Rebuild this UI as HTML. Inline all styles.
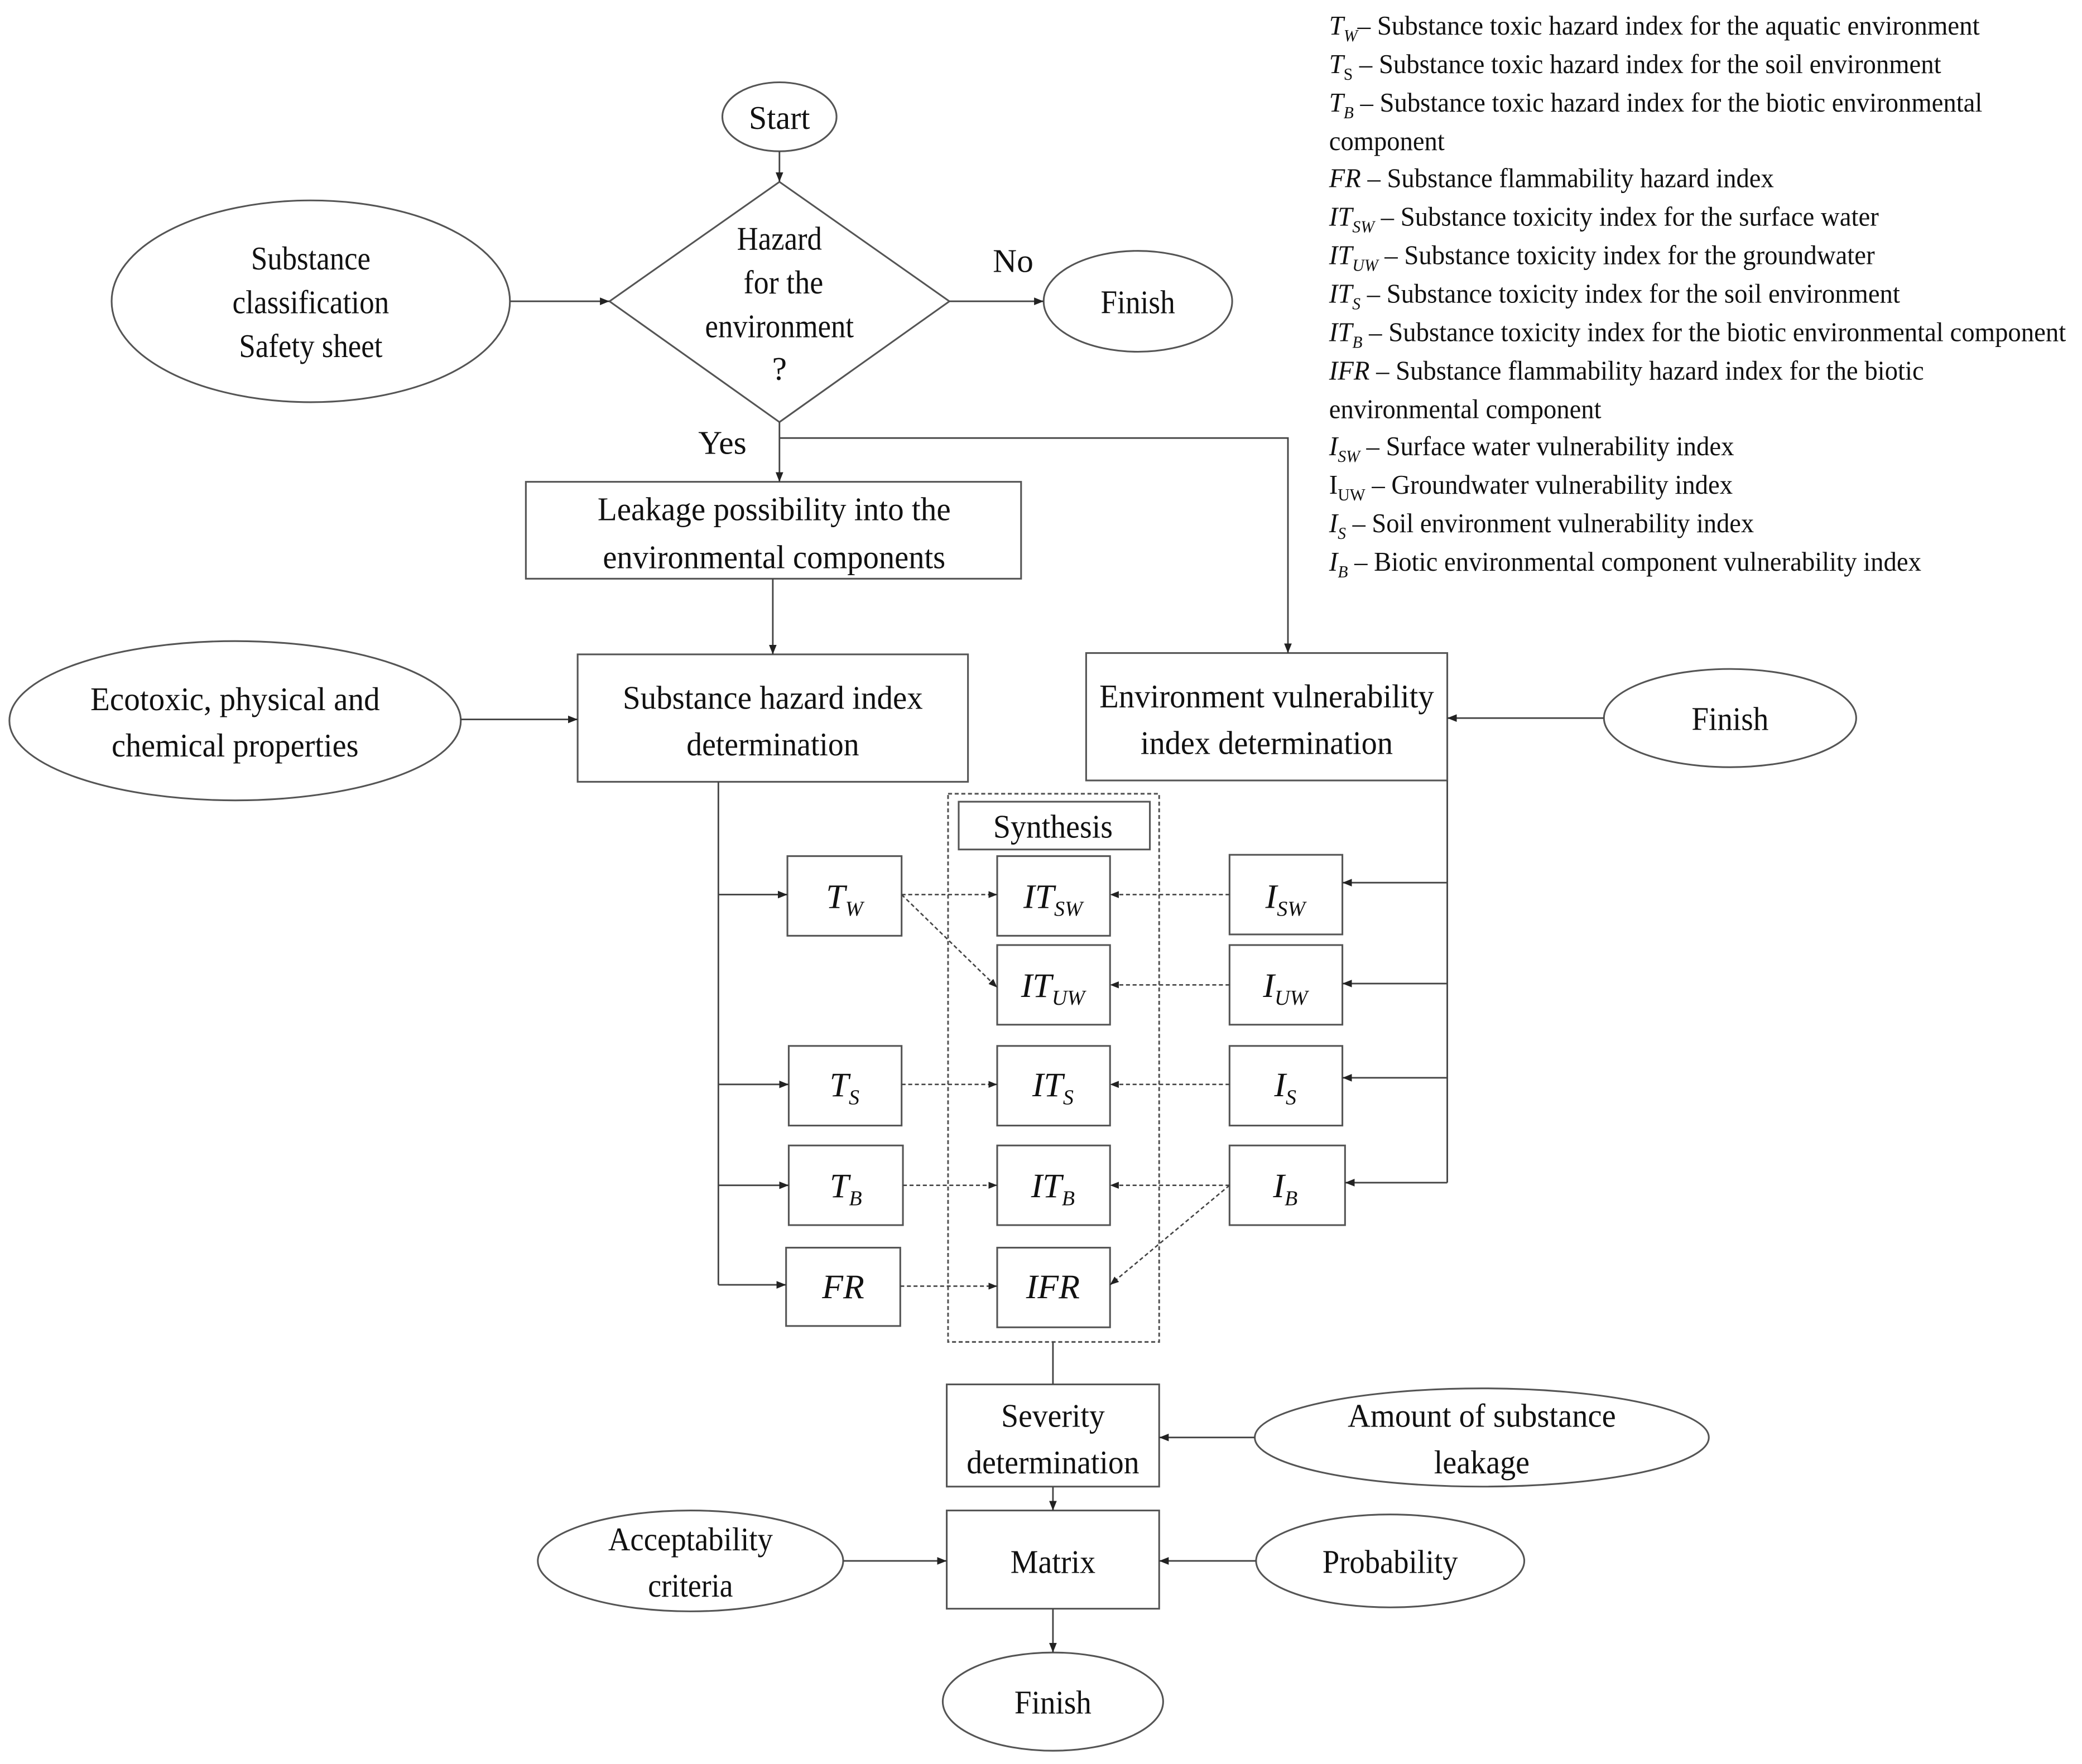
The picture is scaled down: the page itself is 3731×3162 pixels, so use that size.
<!DOCTYPE html>
<html><head><meta charset="utf-8"><style>
html,body{margin:0;padding:0;background:#fff}
svg{display:block}
text{font-family:"Liberation Serif",serif;fill:#111}
.m{font-size:25px;text-anchor:middle}
.l{font-size:20.5px}
.i{font-style:italic}
</style></head><body>
<svg width="3731" height="3162" viewBox="0 0 1568 1329" xmlns="http://www.w3.org/2000/svg">
<defs>
<marker id="a" viewBox="0 0 10 10" refX="10" refY="5" markerWidth="6" markerHeight="6" orient="auto"><path d="M0,1 L10,5 L0,9 z" fill="#222"/></marker>
</defs>
<g fill="none" stroke="#555" stroke-width="1.3">
<ellipse cx="587" cy="88" rx="43" ry="26"/>
<polygon points="587,137 715,227 587,318 459,227"/>
<ellipse cx="857" cy="227" rx="71" ry="38"/>
<ellipse cx="234" cy="227" rx="150" ry="76"/>
<rect x="396" y="363" width="373" height="73"/>
<rect x="435" y="493" width="294" height="96"/>
<ellipse cx="177" cy="543" rx="170" ry="60"/>
<rect x="818" y="492" width="272" height="96"/>
<ellipse cx="1303" cy="541" rx="95" ry="37"/>
<rect x="714" y="598" width="159" height="413" stroke-dasharray="3,2"/>
<rect x="722" y="604" width="144" height="36"/>
<rect x="593" y="645" width="86" height="60"/>
<rect x="594" y="788" width="85" height="60"/>
<rect x="594" y="863" width="86" height="60"/>
<rect x="592" y="940" width="86" height="59"/>
<rect x="751" y="645" width="85" height="60"/>
<rect x="751" y="712" width="85" height="60"/>
<rect x="751" y="788" width="85" height="60"/>
<rect x="751" y="863" width="85" height="60"/>
<rect x="751" y="940" width="85" height="60"/>
<rect x="926" y="644" width="85" height="60"/>
<rect x="926" y="712" width="85" height="60"/>
<rect x="926" y="788" width="85" height="60"/>
<rect x="926" y="863" width="87" height="60"/>
<rect x="713" y="1043" width="160" height="77"/>
<ellipse cx="1116" cy="1083" rx="171" ry="37"/>
<rect x="713" y="1138" width="160" height="74"/>
<ellipse cx="520" cy="1176" rx="115" ry="38"/>
<ellipse cx="1047" cy="1176" rx="101" ry="35"/>
<ellipse cx="793" cy="1282" rx="83" ry="37"/>
</g>
<g fill="none" stroke="#444" stroke-width="1.2">
<path d="M587,114 V137" marker-end="url(#a)"/>
<path d="M715,227 H786" marker-end="url(#a)"/>
<path d="M384,227 H459" marker-end="url(#a)"/>
<path d="M587,318 V363" marker-end="url(#a)"/>
<path d="M587,330 H970 V492" marker-end="url(#a)"/>
<path d="M582,436 V493" marker-end="url(#a)"/>
<path d="M347,542 H435" marker-end="url(#a)"/>
<path d="M1208,541 H1090" marker-end="url(#a)"/>
<path d="M541,589 V968"/>
<path d="M541,674 H593" marker-end="url(#a)"/>
<path d="M541,817 H594" marker-end="url(#a)"/>
<path d="M541,893 H594" marker-end="url(#a)"/>
<path d="M541,968 H592" marker-end="url(#a)"/>
<path d="M1090,588 V891"/>
<path d="M1090,665 H1011" marker-end="url(#a)"/>
<path d="M1090,741 H1011" marker-end="url(#a)"/>
<path d="M1090,812 H1011" marker-end="url(#a)"/>
<path d="M1090,891 H1013" marker-end="url(#a)"/>
<path d="M793,1011 V1043"/>
<path d="M945,1083 H873" marker-end="url(#a)"/>
<path d="M793,1120 V1138" marker-end="url(#a)"/>
<path d="M635,1176 H713" marker-end="url(#a)"/>
<path d="M946,1176 H873" marker-end="url(#a)"/>
<path d="M793,1212 V1245" marker-end="url(#a)"/>
</g>
<g fill="none" stroke="#444" stroke-width="1.1" stroke-dasharray="3,2">
<path d="M679,674 H751" marker-end="url(#a)"/>
<path d="M679,674 L751,744" marker-end="url(#a)"/>
<path d="M926,674 H836" marker-end="url(#a)"/>
<path d="M926,742 H836" marker-end="url(#a)"/>
<path d="M679,817 H751" marker-end="url(#a)"/>
<path d="M926,817 H836" marker-end="url(#a)"/>
<path d="M680,893 H751" marker-end="url(#a)"/>
<path d="M926,893 H836" marker-end="url(#a)"/>
<path d="M926,893 L836,968" marker-end="url(#a)"/>
<path d="M678,969 H751" marker-end="url(#a)"/>
</g>
<g class="m">
<text x="587" y="97" textLength="46" lengthAdjust="spacingAndGlyphs">Start</text>
<text x="587" y="188" textLength="64" lengthAdjust="spacingAndGlyphs">Hazard</text>
<text x="590" y="221" textLength="60" lengthAdjust="spacingAndGlyphs">for the</text>
<text x="587" y="254" textLength="112" lengthAdjust="spacingAndGlyphs">environment</text>
<text x="587" y="286">?</text>
<text x="763" y="205">No</text>
<text x="544" y="342">Yes</text>
<text x="857" y="236" textLength="56" lengthAdjust="spacingAndGlyphs">Finish</text>
<text x="234" y="203" textLength="90" lengthAdjust="spacingAndGlyphs">Substance</text>
<text x="234" y="236" textLength="118" lengthAdjust="spacingAndGlyphs">classification</text>
<text x="234" y="269" textLength="108" lengthAdjust="spacingAndGlyphs">Safety sheet</text>
<text x="583" y="392" textLength="266" lengthAdjust="spacingAndGlyphs">Leakage possibility into the</text>
<text x="583" y="428" textLength="258" lengthAdjust="spacingAndGlyphs">environmental components</text>
<text x="582" y="534" textLength="226" lengthAdjust="spacingAndGlyphs">Substance hazard index</text>
<text x="582" y="569" textLength="130" lengthAdjust="spacingAndGlyphs">determination</text>
<text x="177" y="535" textLength="218" lengthAdjust="spacingAndGlyphs">Ecotoxic, physical and</text>
<text x="177" y="570" textLength="186" lengthAdjust="spacingAndGlyphs">chemical properties</text>
<text x="954" y="533" textLength="252" lengthAdjust="spacingAndGlyphs">Environment vulnerability</text>
<text x="954" y="568" textLength="190" lengthAdjust="spacingAndGlyphs">index determination</text>
<text x="1303" y="550" textLength="58" lengthAdjust="spacingAndGlyphs">Finish</text>
<text x="793" y="631" textLength="90" lengthAdjust="spacingAndGlyphs">Synthesis</text>
<text x="793" y="1075" textLength="78" lengthAdjust="spacingAndGlyphs">Severity</text>
<text x="793" y="1110" textLength="130" lengthAdjust="spacingAndGlyphs">determination</text>
<text x="1116" y="1075" textLength="202" lengthAdjust="spacingAndGlyphs">Amount of substance</text>
<text x="1116" y="1110" textLength="72" lengthAdjust="spacingAndGlyphs">leakage</text>
<text x="793" y="1185" textLength="64" lengthAdjust="spacingAndGlyphs">Matrix</text>
<text x="520" y="1168" textLength="124" lengthAdjust="spacingAndGlyphs">Acceptability</text>
<text x="520" y="1203" textLength="64" lengthAdjust="spacingAndGlyphs">criteria</text>
<text x="1047" y="1185" textLength="102" lengthAdjust="spacingAndGlyphs">Probability</text>
<text x="793" y="1291" textLength="58" lengthAdjust="spacingAndGlyphs">Finish</text>
</g>
<g class="m i" style="font-size:26px">
<text x="636" y="684">T<tspan font-size="16" dy="6">W</tspan></text>
<text x="636" y="826">T<tspan font-size="16" dy="6">S</tspan></text>
<text x="637" y="902">T<tspan font-size="16" dy="6">B</tspan></text>
<text x="635" y="978">FR</text>
<text x="793" y="684">IT<tspan font-size="16" dy="6">SW</tspan></text>
<text x="793" y="751">IT<tspan font-size="16" dy="6">UW</tspan></text>
<text x="793" y="826">IT<tspan font-size="16" dy="6">S</tspan></text>
<text x="793" y="902">IT<tspan font-size="16" dy="6">B</tspan></text>
<text x="793" y="978">IFR</text>
<text x="968" y="684">I<tspan font-size="16" dy="6">SW</tspan></text>
<text x="968" y="751">I<tspan font-size="16" dy="6">UW</tspan></text>
<text x="968" y="826">I<tspan font-size="16" dy="6">S</tspan></text>
<text x="968" y="902">I<tspan font-size="16" dy="6">B</tspan></text>
</g>
<g class="l">
<text x="1001" y="26" textLength="490" lengthAdjust="spacingAndGlyphs"><tspan class="i">T</tspan><tspan class="i" font-size="13" dy="5">W</tspan><tspan dy="-5">– Substance toxic hazard index for the aquatic environment</tspan></text>
<text x="1001" y="55" textLength="461" lengthAdjust="spacingAndGlyphs"><tspan class="i">T</tspan><tspan font-size="13" dy="5">S</tspan><tspan dy="-5"> – Substance toxic hazard index for the soil environment</tspan></text>
<text x="1001" y="84" textLength="492" lengthAdjust="spacingAndGlyphs"><tspan class="i">T</tspan><tspan class="i" font-size="13" dy="5">B</tspan><tspan dy="-5"> – Substance toxic hazard index for the biotic environmental</tspan></text>
<text x="1001" y="113" textLength="87" lengthAdjust="spacingAndGlyphs">component</text>
<text x="1001" y="141" textLength="335" lengthAdjust="spacingAndGlyphs"><tspan class="i">FR</tspan> – Substance flammability hazard index</text>
<text x="1001" y="170" textLength="414" lengthAdjust="spacingAndGlyphs"><tspan class="i">IT</tspan><tspan class="i" font-size="13" dy="5">SW</tspan><tspan dy="-5"> – Substance toxicity index for the surface water</tspan></text>
<text x="1001" y="199" textLength="411" lengthAdjust="spacingAndGlyphs"><tspan class="i">IT</tspan><tspan class="i" font-size="13" dy="5">UW</tspan><tspan dy="-5"> – Substance toxicity index for the groundwater</tspan></text>
<text x="1001" y="228" textLength="430" lengthAdjust="spacingAndGlyphs"><tspan class="i">IT</tspan><tspan class="i" font-size="13" dy="5">S</tspan><tspan dy="-5"> – Substance toxicity index for the soil environment</tspan></text>
<text x="1001" y="257" textLength="555" lengthAdjust="spacingAndGlyphs"><tspan class="i">IT</tspan><tspan class="i" font-size="13" dy="5">B</tspan><tspan dy="-5"> – Substance toxicity index for the biotic environmental component</tspan></text>
<text x="1001" y="286" textLength="448" lengthAdjust="spacingAndGlyphs"><tspan class="i">IFR</tspan> – Substance flammability hazard index for the biotic</text>
<text x="1001" y="315" textLength="205" lengthAdjust="spacingAndGlyphs">environmental component</text>
<text x="1001" y="343" textLength="305" lengthAdjust="spacingAndGlyphs"><tspan class="i">I</tspan><tspan class="i" font-size="13" dy="5">SW</tspan><tspan dy="-5"> – Surface water vulnerability index</tspan></text>
<text x="1001" y="372" textLength="304" lengthAdjust="spacingAndGlyphs">I<tspan font-size="13" dy="5">UW</tspan><tspan dy="-5"> – Groundwater vulnerability index</tspan></text>
<text x="1001" y="401" textLength="320" lengthAdjust="spacingAndGlyphs"><tspan class="i">I</tspan><tspan class="i" font-size="13" dy="5">S</tspan><tspan dy="-5"> – Soil environment vulnerability index</tspan></text>
<text x="1001" y="430" textLength="446" lengthAdjust="spacingAndGlyphs"><tspan class="i">I</tspan><tspan class="i" font-size="13" dy="5">B</tspan><tspan dy="-5"> – Biotic environmental component vulnerability index</tspan></text>
</g>
</svg>
</body></html>
